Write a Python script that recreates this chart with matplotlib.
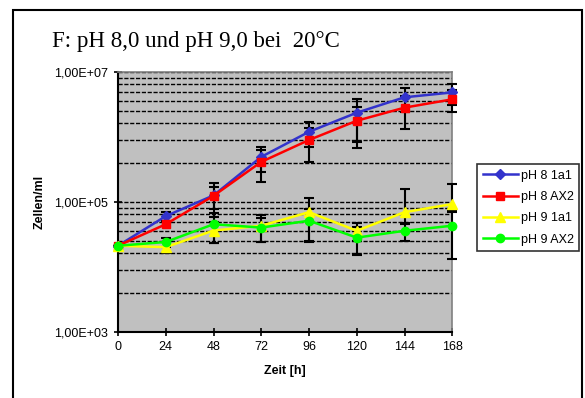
import numpy as np
import matplotlib
matplotlib.use("Agg")
import matplotlib.pyplot as plt
from matplotlib.ticker import FixedLocator, FuncFormatter, NullFormatter
from matplotlib.patches import Rectangle

# Zeit in Stunden
zeit = [0, 24, 48, 72, 96, 120, 144, 168]

# Zellen/ml
ph8_1a1 = [2.1e4, 6.0e4, 1.25e5, 4.9e5, 1.19e6, 2.34e6, 4.04e6, 4.8e6]
ph8_ax2 = [2.1e4, 4.5e4, 1.23e5, 4.1e5, 8.9e5, 1.76e6, 2.8e6, 3.76e6]
ph9_1a1 = [2.1e4, 2.0e4, 3.6e4, 4.27e4, 6.9e4, 3.57e4, 6.9e4, 9.2e4]
ph9_ax2 = [2.1e4, 2.4e4, 4.5e4, 4.0e4, 5.1e4, 2.8e4, 3.57e4, 4.27e4]

# error bars (lower, upper)
err_8_1a1_lo = [0, 1.0e4, 6.7e4, 2.0e5, 5.0e5, 1.5e6, 1.6e6, 1.7e6]
err_8_1a1_hi = [0, 1.0e4, 6.7e4, 2.0e5, 5.0e5, 1.5e6, 1.6e6, 1.7e6]
err_8_ax2_lo = [0, 3.0e3, 4.7e4, 2.1e5, 4.8e5, 1.1e6, 1.5e6, 1.4e6]
err_8_ax2_hi = [0, 3.0e3, 4.7e4, 2.1e5, 4.8e5, 1.1e6, 1.5e6, 1.4e6]
err_9_1a1_lo = [0, 4.0e3, 1.3e4, 1.9e4, 4.5e4, 1.1e4, 2.3e4, 2.2e4]
err_9_1a1_hi = [0, 4.0e3, 1.3e4, 1.9e4, 4.5e4, 1.1e4, 8.8e4, 9.5e4]
err_9_ax2_lo = [0, 4.0e3, 2.2e4, 1.6e4, 2.6e4, 1.3e4, 1.1e4, 2.97e4]
err_9_ax2_hi = [0, 4.0e3, 2.2e4, 1.6e4, 2.6e4, 1.3e4, 1.1e4, 2.8e4]

labels = ['pH 8 1a1', 'pH 8 AX2', 'pH 9 1a1', 'pH 9 AX2']
y_ticks = [1e3, 1e5, 1e7]

fig = plt.figure(figsize=(5.85, 3.98), dpi=100)
plt.rcParams['font.family'] = ['Liberation Sans', 'DejaVu Sans']

# outer chart frame
fig.patches.append(Rectangle((13/585, -0.05), 569/585, 1 - 10/398 + 0.05,
                             transform=fig.transFigure, fill=False,
                             edgecolor='black', linewidth=1.5))

ax = fig.add_axes([118/585, 1 - 331.7/398, (452.3 - 118)/585, (331.7 - 71.7)/398])
ax.set_facecolor('#C0C0C0')
ax.set_yscale('log')
ax.set_xlim(0, 168)
ax.set_ylim(1e3, 1e7)

# minor gridlines (Excel log axis with base 100)
minor = [b * k**2 for b in (1e3, 1e5) for k in range(2, 10)]
ax.yaxis.set_major_locator(FixedLocator(y_ticks))
ax.yaxis.set_minor_locator(FixedLocator(minor))
ax.yaxis.set_minor_formatter(NullFormatter())
ax.yaxis.set_major_formatter(FuncFormatter(lambda v, p: ('%.2E' % v).replace('.', ',')))
ax.tick_params(axis='y', which='minor', length=0)
ax.grid(True, axis='y', which='both', color='black', linestyle=(0, (3, 1.2)), linewidth=1.0)
ax.set_axisbelow(True)

ax.set_xticks(zeit)
ax.tick_params(axis='both', which='major', direction='inout', length=6, width=1.2, labelsize=9, pad=4)

for s in ['top', 'right']:
    ax.spines[s].set_color('#808080')
    ax.spines[s].set_linewidth(1.2)
for s in ['left', 'bottom']:
    ax.spines[s].set_linewidth(1.5)

series = [
    (ph8_1a1, err_8_1a1_lo, err_8_1a1_hi, '#3333CC', 'D', 5),
    (ph8_ax2, err_8_ax2_lo, err_8_ax2_hi, '#FF0000', 's', 5.5),
    (ph9_1a1, err_9_1a1_lo, err_9_1a1_hi, '#FFFF00', '^', 7),
    (ph9_ax2, err_9_ax2_lo, err_9_ax2_hi, '#00FF00', 'o', 6),
]

for (vals, lo, hi, col, mk, ms), lab in zip(series, labels):
    ax.errorbar(zeit, vals, yerr=[lo, hi], fmt='none', ecolor='black',
                elinewidth=1.5, capsize=3.5, capthick=1.5, zorder=3, clip_on=False)
    ax.plot(zeit, vals, color=col, marker=mk, markersize=ms, linewidth=1.8,
            label=lab, zorder=4, clip_on=False)

ax.set_xlabel('Zeit [h]', fontsize=9, fontweight='bold', labelpad=8)
ax.set_ylabel('Zellen/ml', fontsize=9, fontweight='bold', labelpad=6)

fig.text(52/585, 1 - 41/398, 'F: pH 8,0 und pH 9,0 bei  20°C', fontsize=16.5,
         family=['Liberation Serif', 'DejaVu Serif'], va='center', ha='left')

leg = ax.legend(loc='upper left', bbox_to_anchor=(477/585, 1 - 164/398),
                bbox_transform=fig.transFigure, fontsize=9, frameon=True,
                fancybox=False, edgecolor='black', borderpad=0.45,
                handlelength=2.8, handletextpad=0.25, labelspacing=0.75,
                borderaxespad=0)
leg.get_frame().set_linewidth(1.2)

fig.savefig('out.png', dpi=100)
